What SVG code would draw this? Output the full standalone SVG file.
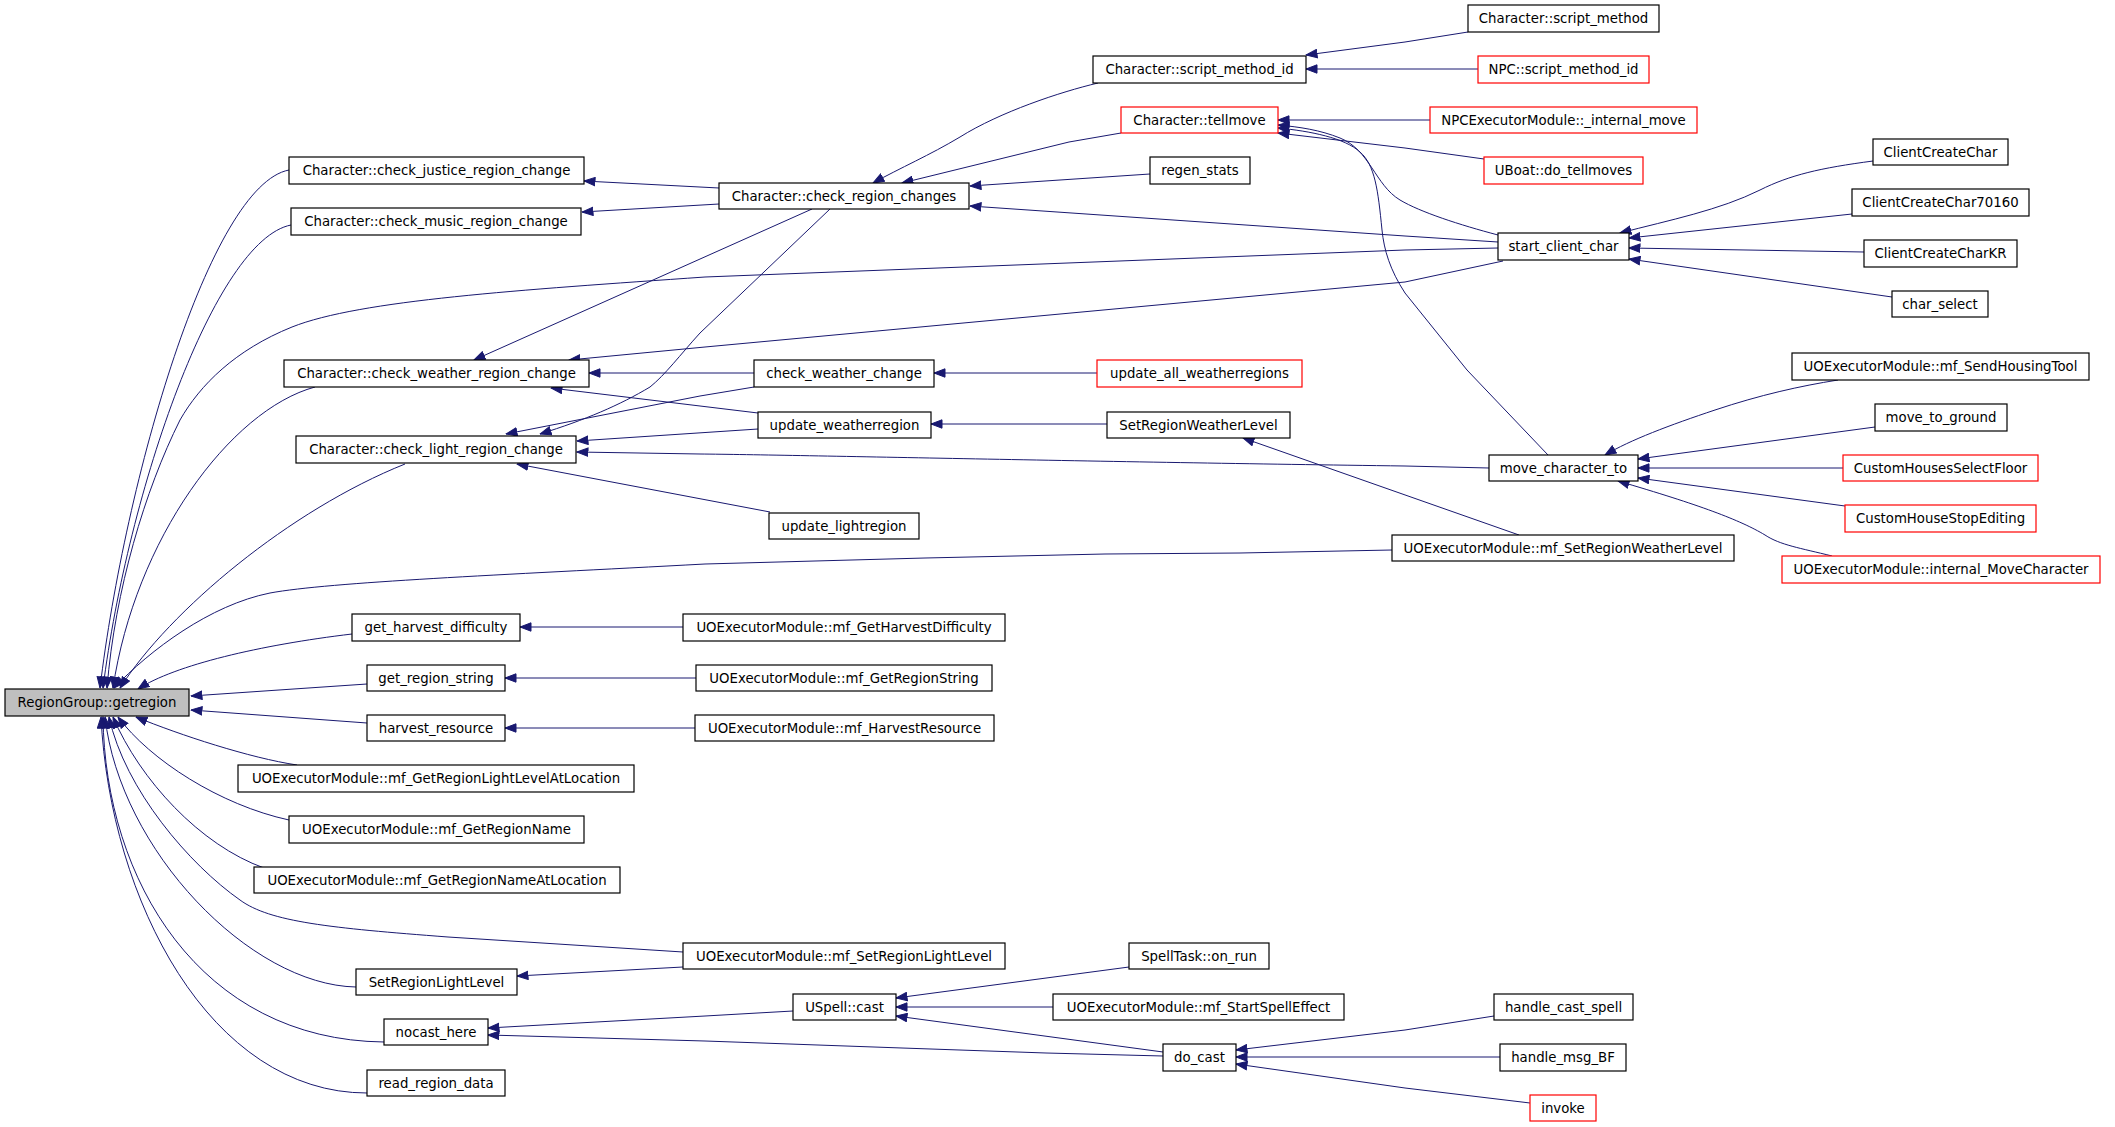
<svg xmlns="http://www.w3.org/2000/svg" width="2115" height="1127" viewBox="0 0 2115 1127">
<style>
.nd rect{fill:#ffffff;stroke:#000000;stroke-width:1.2}
.nd.red rect{stroke:#ff0000}
.nd.root rect{fill:#bfbfbf}
.nd text{font-family:"DejaVu Sans","Liberation Sans",sans-serif;font-size:13.3px;fill:#000000;text-anchor:middle}
.ed path{fill:none;stroke:#191970;stroke-width:1;marker-end:url(#ah)}
</style>
<defs>
<marker id="ah" markerUnits="userSpaceOnUse" markerWidth="12" markerHeight="10" viewBox="0 0 12 10" refX="11.5" refY="5" orient="auto">
<path d="M0.5,0.8 L11.5,5 L0.5,9.2 z" fill="#191970" stroke="#191970" stroke-width="1"/>
</marker>
</defs>
<rect x="0" y="0" width="2115" height="1127" fill="#ffffff"/>
<g id="connectors" class="ed">
<path d="M289,170 C210,185 125,480 100,688"/>
<path d="M291,225 C215,240 128,490 103,688"/>
<path d="M1498,248 L1405,250 L705,277 C520,290 360,300 292,327 C235,350 200,385 180,420 C145,490 115,590 107,688"/>
<path d="M315,387 C230,410 135,540 113,688"/>
<path d="M405,464 C290,510 170,610 120,688"/>
<path d="M1392,550 L1240,553 L1105,554 L925,558 L705,564 C500,575 330,582 270,593 C210,605 150,650 114,688"/>
<path d="M352,634 C260,645 175,665 138,689"/>
<path d="M367,684 L191,696"/>
<path d="M367,723 L191,710"/>
<path d="M297,765 C250,758 180,735 136,717"/>
<path d="M289,820 C220,805 150,760 118,717"/>
<path d="M264,868 C200,845 140,780 113,717"/>
<path d="M683,952 L448,937 C330,928 270,922 240,900 C190,865 125,790 109,717"/>
<path d="M356,987 C250,985 120,850 105,717"/>
<path d="M384,1042 C200,1040 105,880 103,717"/>
<path d="M367,1093 C210,1093 110,900 101,717"/>
<path d="M719,188 L584,181"/>
<path d="M719,204 L582,212"/>
<path d="M812,209 L474,360"/>
<path d="M830,209 L700,333 C680,355 665,375 650,387 C620,405 585,420 540,434"/>
<path d="M1098,83 C1060,92 1000,112 960,137 C930,155 900,168 873,183"/>
<path d="M1121,133 L1069,142 L902,183"/>
<path d="M1150,174 L970,186"/>
<path d="M1498,242 L1405,236 L970,206"/>
<path d="M754,373 L589,373"/>
<path d="M758,413 L551,388"/>
<path d="M1503,261 L1405,282 L705,347 L569,360"/>
<path d="M754,387 L700,396 L506,434"/>
<path d="M758,429 L577,441"/>
<path d="M1489,468 L1405,466 C1100,462 800,455 700,454 L577,452"/>
<path d="M770,512 L517,464"/>
<path d="M1430,120 L1278,120"/>
<path d="M1484,159 L1405,148 L1278,133"/>
<path d="M1498,235 C1460,225 1420,212 1400,200 C1375,185 1370,150 1340,138 C1320,130 1300,127 1278,125"/>
<path d="M1548,455 L1467,370 L1405,293 C1390,270 1384,250 1382,230 C1378,190 1375,165 1360,152 C1345,138 1310,131 1278,128"/>
<path d="M1468,32 L1405,42 L1306,55"/>
<path d="M1478,69 L1306,69"/>
<path d="M1873,161 C1820,168 1790,175 1760,190 C1720,210 1670,220 1620,233"/>
<path d="M1852,214 L1629,238"/>
<path d="M1864,252 L1629,248"/>
<path d="M1892,297 L1629,259"/>
<path d="M1838,380 C1800,386 1760,395 1715,410 C1670,425 1630,440 1605,455"/>
<path d="M1875,427 L1638,459"/>
<path d="M1843,468 L1638,468"/>
<path d="M1845,506 L1638,478"/>
<path d="M1832,556 C1800,548 1780,545 1765,535 C1740,520 1700,505 1618,481"/>
<path d="M1097,373 L934,373"/>
<path d="M1107,424 L931,424"/>
<path d="M1519,535 L1243,438"/>
<path d="M683,627 L520,627"/>
<path d="M696,678 L505,678"/>
<path d="M695,728 L505,728"/>
<path d="M683,967 L517,976"/>
<path d="M793,1011 L705,1016 L488,1028"/>
<path d="M1163,1056 L1046,1053 L902,1048 L705,1041 L488,1035"/>
<path d="M1129,967 L896,998"/>
<path d="M1053,1007 L896,1007"/>
<path d="M1163,1052 L896,1016"/>
<path d="M1494,1016 L1405,1030 L1236,1050"/>
<path d="M1500,1057 L1236,1057"/>
<path d="M1530,1103 L1405,1088 L1236,1064"/>
</g>
<g id="n_getregion" class="nd root"><rect x="5" y="689" width="184" height="27"/><text x="97" y="707.3">RegionGroup::getregion</text></g>
<g id="n_justice" class="nd"><rect x="289" y="157" width="295" height="27"/><text x="436.5" y="175.3">Character::check_justice_region_change</text></g>
<g id="n_music" class="nd"><rect x="291" y="208" width="290" height="27"/><text x="436" y="226.3">Character::check_music_region_change</text></g>
<g id="n_weather_rc" class="nd"><rect x="284" y="360" width="305" height="27"/><text x="436.5" y="378.3">Character::check_weather_region_change</text></g>
<g id="n_light_rc" class="nd"><rect x="296" y="436" width="280" height="27"/><text x="436" y="454.3">Character::check_light_region_change</text></g>
<g id="n_get_harvest_difficulty" class="nd"><rect x="352" y="614" width="168" height="27"/><text x="436" y="632.3">get_harvest_difficulty</text></g>
<g id="n_get_region_string" class="nd"><rect x="367" y="665" width="138" height="26"/><text x="436" y="682.8">get_region_string</text></g>
<g id="n_harvest_resource" class="nd"><rect x="367" y="715" width="138" height="26"/><text x="436" y="732.8">harvest_resource</text></g>
<g id="n_mf_GetRegionLightLevelAtLocation" class="nd"><rect x="238" y="765" width="396" height="27"/><text x="436" y="783.3">UOExecutorModule::mf_GetRegionLightLevelAtLocation</text></g>
<g id="n_mf_GetRegionName" class="nd"><rect x="289" y="816" width="295" height="27"/><text x="436.5" y="834.3">UOExecutorModule::mf_GetRegionName</text></g>
<g id="n_mf_GetRegionNameAtLocation" class="nd"><rect x="254" y="867" width="366" height="26"/><text x="437" y="884.8">UOExecutorModule::mf_GetRegionNameAtLocation</text></g>
<g id="n_SetRegionLightLevel" class="nd"><rect x="356" y="969" width="161" height="26"/><text x="436.5" y="986.8">SetRegionLightLevel</text></g>
<g id="n_nocast_here" class="nd"><rect x="384" y="1019" width="104" height="26"/><text x="436" y="1036.8">nocast_here</text></g>
<g id="n_read_region_data" class="nd"><rect x="367" y="1070" width="138" height="26"/><text x="436" y="1087.8">read_region_data</text></g>
<g id="n_check_region_changes" class="nd"><rect x="719" y="183" width="250" height="26"/><text x="844" y="200.8">Character::check_region_changes</text></g>
<g id="n_script_method_id" class="nd"><rect x="1093" y="56" width="213" height="27"/><text x="1199.5" y="74.3">Character::script_method_id</text></g>
<g id="n_tellmove" class="nd red"><rect x="1121" y="107" width="157" height="26"/><text x="1199.5" y="124.8">Character::tellmove</text></g>
<g id="n_regen_stats" class="nd"><rect x="1150" y="157" width="100" height="27"/><text x="1200" y="175.3">regen_stats</text></g>
<g id="n_check_weather_change" class="nd"><rect x="754" y="360" width="180" height="27"/><text x="844" y="378.3">check_weather_change</text></g>
<g id="n_update_all_weatherregions" class="nd red"><rect x="1097" y="360" width="205" height="27"/><text x="1199.5" y="378.3">update_all_weatherregions</text></g>
<g id="n_update_weatherregion" class="nd"><rect x="758" y="412" width="173" height="26"/><text x="844.5" y="429.8">update_weatherregion</text></g>
<g id="n_SetRegionWeatherLevel" class="nd"><rect x="1107" y="412" width="183" height="26"/><text x="1198.5" y="429.8">SetRegionWeatherLevel</text></g>
<g id="n_update_lightregion" class="nd"><rect x="769" y="513" width="150" height="26"/><text x="844" y="530.8">update_lightregion</text></g>
<g id="n_mf_GetHarvestDifficulty" class="nd"><rect x="683" y="614" width="322" height="27"/><text x="844" y="632.3">UOExecutorModule::mf_GetHarvestDifficulty</text></g>
<g id="n_mf_GetRegionString" class="nd"><rect x="696" y="665" width="296" height="26"/><text x="844" y="682.8">UOExecutorModule::mf_GetRegionString</text></g>
<g id="n_mf_HarvestResource" class="nd"><rect x="695" y="715" width="299" height="26"/><text x="844.5" y="732.8">UOExecutorModule::mf_HarvestResource</text></g>
<g id="n_mf_SetRegionLightLevel" class="nd"><rect x="683" y="943" width="322" height="26"/><text x="844" y="960.8">UOExecutorModule::mf_SetRegionLightLevel</text></g>
<g id="n_USpell_cast" class="nd"><rect x="793" y="994" width="103" height="26"/><text x="844.5" y="1011.8">USpell::cast</text></g>
<g id="n_SpellTask_on_run" class="nd"><rect x="1129" y="943" width="140" height="26"/><text x="1199" y="960.8">SpellTask::on_run</text></g>
<g id="n_mf_StartSpellEffect" class="nd"><rect x="1053" y="994" width="291" height="26"/><text x="1198.5" y="1011.8">UOExecutorModule::mf_StartSpellEffect</text></g>
<g id="n_do_cast" class="nd"><rect x="1163" y="1044" width="73" height="27"/><text x="1199.5" y="1062.3">do_cast</text></g>
<g id="n_script_method" class="nd"><rect x="1468" y="5" width="191" height="27"/><text x="1563.5" y="23.3">Character::script_method</text></g>
<g id="n_NPC_script_method_id" class="nd red"><rect x="1478" y="56" width="171" height="27"/><text x="1563.5" y="74.3">NPC::script_method_id</text></g>
<g id="n_internal_move" class="nd red"><rect x="1430" y="107" width="267" height="26"/><text x="1563.5" y="124.8">NPCExecutorModule::_internal_move</text></g>
<g id="n_do_tellmoves" class="nd red"><rect x="1484" y="157" width="159" height="27"/><text x="1563.5" y="175.3">UBoat::do_tellmoves</text></g>
<g id="n_start_client_char" class="nd"><rect x="1498" y="233" width="131" height="27"/><text x="1563.5" y="251.3">start_client_char</text></g>
<g id="n_move_character_to" class="nd"><rect x="1489" y="455" width="149" height="26"/><text x="1563.5" y="472.8">move_character_to</text></g>
<g id="n_mf_SetRegionWeatherLevel" class="nd"><rect x="1392" y="535" width="342" height="26"/><text x="1563" y="552.8">UOExecutorModule::mf_SetRegionWeatherLevel</text></g>
<g id="n_ClientCreateChar" class="nd"><rect x="1873" y="139" width="135" height="26"/><text x="1940.5" y="156.8">ClientCreateChar</text></g>
<g id="n_ClientCreateChar70160" class="nd"><rect x="1852" y="189" width="177" height="27"/><text x="1940.5" y="207.3">ClientCreateChar70160</text></g>
<g id="n_ClientCreateCharKR" class="nd"><rect x="1864" y="240" width="153" height="27"/><text x="1940.5" y="258.3">ClientCreateCharKR</text></g>
<g id="n_char_select" class="nd"><rect x="1892" y="291" width="96" height="26"/><text x="1940" y="308.8">char_select</text></g>
<g id="n_mf_SendHousingTool" class="nd"><rect x="1792" y="353" width="297" height="27"/><text x="1940.5" y="371.3">UOExecutorModule::mf_SendHousingTool</text></g>
<g id="n_move_to_ground" class="nd"><rect x="1875" y="404" width="132" height="27"/><text x="1941" y="422.3">move_to_ground</text></g>
<g id="n_CustomHousesSelectFloor" class="nd red"><rect x="1843" y="455" width="195" height="26"/><text x="1940.5" y="472.8">CustomHousesSelectFloor</text></g>
<g id="n_CustomHouseStopEditing" class="nd red"><rect x="1845" y="505" width="191" height="27"/><text x="1940.5" y="523.3">CustomHouseStopEditing</text></g>
<g id="n_internal_MoveCharacter" class="nd red"><rect x="1782" y="556" width="318" height="27"/><text x="1941" y="574.3">UOExecutorModule::internal_MoveCharacter</text></g>
<g id="n_handle_cast_spell" class="nd"><rect x="1494" y="994" width="139" height="26"/><text x="1563.5" y="1011.8">handle_cast_spell</text></g>
<g id="n_handle_msg_BF" class="nd"><rect x="1500" y="1044" width="126" height="27"/><text x="1563" y="1062.3">handle_msg_BF</text></g>
<g id="n_invoke" class="nd red"><rect x="1530" y="1095" width="66" height="26"/><text x="1563" y="1112.8">invoke</text></g>
</svg>
